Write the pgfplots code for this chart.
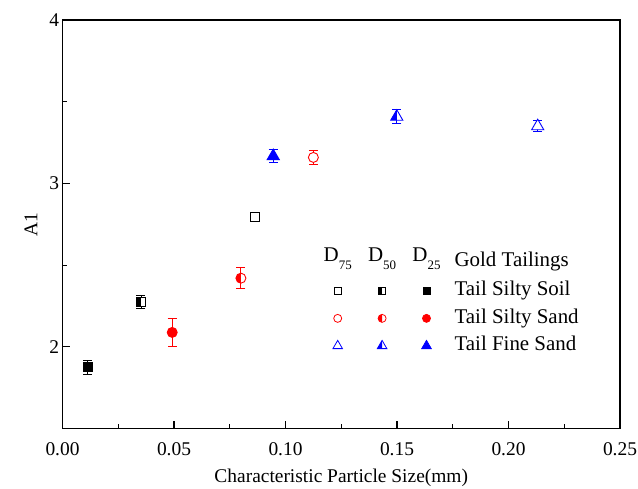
\documentclass[border=0pt]{standalone}
\usepackage{pgfplots}
\pgfplotsset{compat=1.18}
\usepackage{fontspec}
\setmainfont{Liberation Serif}

% half-filled marks: left half in the plot colour, right half white
\pgfdeclareplotmark{hsquare}{%
  \begin{pgfscope}\pgfsetfillcolor{white}%
    \pgfpathrectangle{\pgfqpoint{-\pgfplotmarksize}{-\pgfplotmarksize}}{\pgfqpoint{2\pgfplotmarksize}{2\pgfplotmarksize}}%
    \pgfusepath{fill}\end{pgfscope}%
  \pgfpathrectangle{\pgfqpoint{-\pgfplotmarksize}{-\pgfplotmarksize}}{\pgfqpoint{\pgfplotmarksize}{2\pgfplotmarksize}}%
  \pgfusepath{fill}%
  \pgfpathrectangle{\pgfqpoint{-\pgfplotmarksize}{-\pgfplotmarksize}}{\pgfqpoint{2\pgfplotmarksize}{2\pgfplotmarksize}}%
  \pgfusepath{stroke}%
}
\pgfdeclareplotmark{hcircle}{%
  \begin{pgfscope}\pgfsetfillcolor{white}%
    \pgfpathcircle{\pgfpointorigin}{\pgfplotmarksize}\pgfusepath{fill}\end{pgfscope}%
  \pgfpathmoveto{\pgfqpoint{0pt}{\pgfplotmarksize}}%
  \pgfpatharc{90}{270}{\pgfplotmarksize}%
  \pgfpathclose\pgfusepath{fill}%
  \pgfpathcircle{\pgfpointorigin}{\pgfplotmarksize}\pgfusepath{stroke}%
}
\pgfdeclareplotmark{htriangle}{%
  \begin{pgfscope}\pgfsetfillcolor{white}%
    \pgfpathmoveto{\pgfqpoint{0pt}{\pgfplotmarksize}}%
    \pgfpathlineto{\pgfqpoint{-.8660254\pgfplotmarksize}{-.5\pgfplotmarksize}}%
    \pgfpathlineto{\pgfqpoint{.8660254\pgfplotmarksize}{-.5\pgfplotmarksize}}%
    \pgfpathclose\pgfusepath{fill}\end{pgfscope}%
  \pgfpathmoveto{\pgfqpoint{0pt}{\pgfplotmarksize}}%
  \pgfpathlineto{\pgfqpoint{-.8660254\pgfplotmarksize}{-.5\pgfplotmarksize}}%
  \pgfpathlineto{\pgfqpoint{0pt}{-.5\pgfplotmarksize}}%
  \pgfpathclose\pgfusepath{fill}%
  \pgfpathmoveto{\pgfqpoint{0pt}{\pgfplotmarksize}}%
  \pgfpathlineto{\pgfqpoint{-.8660254\pgfplotmarksize}{-.5\pgfplotmarksize}}%
  \pgfpathlineto{\pgfqpoint{.8660254\pgfplotmarksize}{-.5\pgfplotmarksize}}%
  \pgfpathclose\pgfusepath{stroke}%
}

\newcommand\sub[1]{\raisebox{-7.5bp}{\fontsize{13}{13}\selectfont #1}}

\pgfplotsset{
  pt/.style={only marks, forget plot, line width=0.9bp,
    error bars/y dir=both, error bars/y explicit,
    error bars/error bar style={line width=0.9bp},
    error bars/error mark options={rotate=90, mark size=4.5bp, line width=0.9bp}},
  hdr/.style={legend image code/.code={%
      \path (-21.5bp,0) (21.5bp,0);
      \node[anchor=base, inner sep=0pt, text depth=11.5bp] at (0,0) {#1};}},
  mk/.style={legend image code/.code={%
      \path (-21.5bp,0) (21.5bp,0);
      \draw[##1, only marks, line width=0.8bp] plot coordinates {(0cm,0cm)};}},
  gap/.style={legend image code/.code={\path (0,0) (5bp,0);}},
}

\begin{document}
\begin{tikzpicture}
\begin{axis}[
  scale only axis, width=557.5bp, height=408.5bp,
  xmin=0, xmax=0.25, ymin=1.5, ymax=4,
  xtick={0,0.05,0.1,0.15,0.2,0.25}, ytick={2,3,4},
  minor x tick num=1, minor y tick num=1,
  xtick pos=bottom, ytick pos=left, tick align=inside,
  major tick length=8bp, minor tick length=4.5bp,
  every tick/.style={black, line width=1.1bp},
  axis line style={line width=1.4bp},
  /pgf/number format/assume math mode=true,
  xticklabel style={/pgf/number format/fixed, /pgf/number format/fixed zerofill,
    /pgf/number format/precision=2, yshift=-11bp},
  tick label style={font=\fontsize{19.5}{23}\selectfont},
  label style={font=\fontsize{19.5}{23}\selectfont},
  xlabel={Characteristic Particle Size(mm)},
  xlabel style={yshift=-6bp},
  ylabel={A1},
  ylabel style={yshift=5bp},
  legend columns=4,
  legend style={draw=none, fill=none, at={(0.449,0.45)}, anchor=north west,
    font=\fontsize{21}{25}\selectfont,
    nodes={inner sep=0pt, text height=15bp, text depth=5bp},
    row sep=7.5bp, column sep=0pt},
  legend cell align=left,
]
% D25
\addplot[pt, black, mark=square*, mark size=4.5bp] coordinates {(0.0113,1.874) +- (0,0.044)};
\addplot[pt, red, mark=*, mark size=5bp] coordinates {(0.0492,2.088) +- (0,0.086)};
\addplot[pt, blue, mark=triangle*, mark size=7bp] coordinates {(0.0945,3.167) +- (0,0.040)};
% D50
\addplot[pt, black, mark=hsquare, mark size=4.5bp] coordinates {(0.0352,2.273) +- (0,0.039)};
\addplot[pt, red, mark=hcircle, mark size=5bp] coordinates {(0.0800,2.420) +- (0,0.065)};
\addplot[pt, blue, mark=htriangle, mark size=7bp] coordinates {(0.1499,3.408) +- (0,0.044)};
% D75
\addplot[pt, black, mark=square*, mark options={fill=white}, mark size=4.5bp] coordinates {(0.0863,2.794) +- (0,0.020)};
\addplot[pt, red, mark=*, mark options={fill=white}, mark size=5bp] coordinates {(0.1125,3.159) +- (0,0.040)};
\addplot[pt, blue, mark=triangle*, mark options={fill=white}, mark size=7bp] coordinates {(0.2131,3.350) +- (0,0.035)};

% legend grid: header row, then one row per tailing
\addlegendimage{hdr={D\sub{75}}}
\addlegendimage{hdr={D\sub{50}}}
\addlegendimage{hdr={D\sub{25}}}
\addlegendimage{gap}
\addlegendimage{mk, black, mark=square*, mark options={fill=white}, mark size=3.5bp}
\addlegendimage{mk, black, mark=hsquare, mark size=3.5bp}
\addlegendimage{mk, black, mark=square*, mark size=3.5bp}
\addlegendimage{gap}
\addlegendimage{mk, red, mark=*, mark options={fill=white}, mark size=4bp}
\addlegendimage{mk, red, mark=hcircle, mark size=4bp}
\addlegendimage{mk, red, mark=*, mark size=4bp}
\addlegendimage{gap}
\addlegendimage{mk, blue, mark=triangle*, mark options={fill=white}, mark size=5.5bp}
\addlegendimage{mk, blue, mark=htriangle, mark size=5.5bp}
\addlegendimage{mk, blue, mark=triangle*, mark size=5.5bp}
\addlegendimage{gap}
\legend{\mbox{},\mbox{},\mbox{},Gold Tailings,
        \mbox{},\mbox{},\mbox{},Tail Silty Soil,
        \mbox{},\mbox{},\mbox{},Tail Silty Sand,
        \mbox{},\mbox{},\mbox{},Tail Fine Sand}

\coordinate (bbsw) at (rel axis cs:0,0);
\coordinate (bbne) at (rel axis cs:1,1);
\end{axis}
\pgfresetboundingbox
\path[use as bounding box] ([shift={(-62.5bp,-60bp)}]bbsw) rectangle ([shift={(18bp,20bp)}]bbne);
\end{tikzpicture}
\end{document}
